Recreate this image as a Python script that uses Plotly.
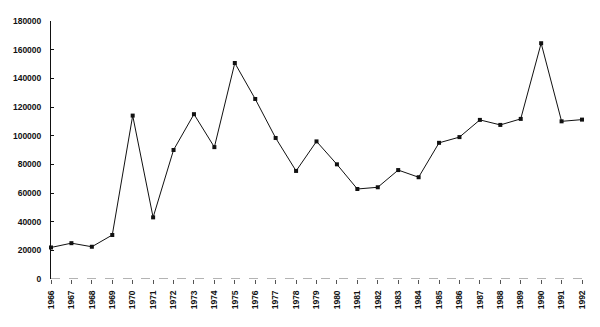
import plotly.graph_objects as go

years = list(range(1966, 1993))
values = [22000, 25000, 22500, 30700, 114000, 43000, 90000, 115000, 92000,
          150700, 125600, 98400, 75400, 96000, 80000, 62800, 64000, 76000,
          71000, 95000, 99000, 111000, 107500, 111700, 164500, 110000, 111200]
y_ticks = [0, 20000, 40000, 60000, 80000, 100000, 120000, 140000, 160000, 180000]

fig = go.Figure()
fig.add_trace(go.Scatter(
    x=years, y=values, mode="lines+markers",
    line=dict(color="#111111", width=1),
    marker=dict(color="#111111", size=4, symbol="square"),
    cliponaxis=False, showlegend=False,
))

tf = dict(family="Liberation Sans, Arial, sans-serif", size=8.5, color="#111111", weight="bold")

fig.update_layout(
    width=600, height=327,
    margin=dict(l=51, r=18, t=21, b=48),
    paper_bgcolor="white", plot_bgcolor="white",
    xaxis=dict(
        range=[1966, 1992], tickvals=years, ticktext=[str(y) for y in years],
        tickangle=-90, showgrid=False, zeroline=False, showline=False,
        ticks="outside", ticklen=4, tickcolor="#555555", tickwidth=1,
        ticklabelstandoff=3, tickfont=tf,
    ),
    yaxis=dict(
        range=[0, 180000], tickvals=y_ticks, tickformat="d",
        showgrid=False, zeroline=False, showline=True, linecolor="#111111", linewidth=1,
        ticks="inside", ticklen=3, tickcolor="#111111",
        ticklabelstandoff=7, tickfont=tf,
    ),
    shapes=[dict(type="line", xref="paper", yref="y", x0=0, x1=1, y0=0, y1=0,
                 line=dict(color="#666666", width=1, dash="dash"))],
)

fig.write_html("out.html")
